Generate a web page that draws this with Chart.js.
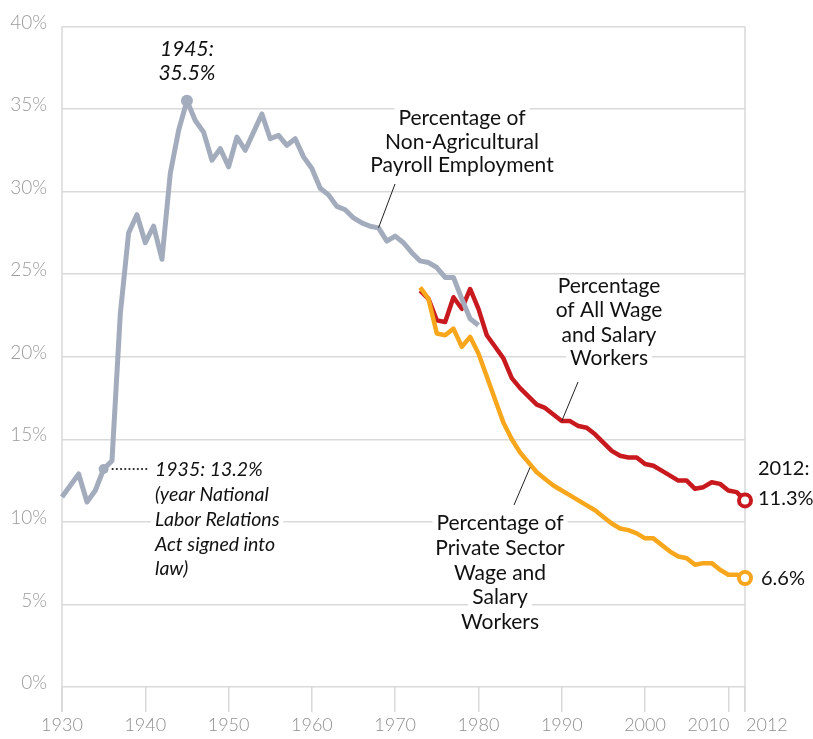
<!DOCTYPE html>
<html>
<head>
<meta charset="utf-8">
<script src="https://cdn.jsdelivr.net/npm/chart.js@4"></script>
<style>
  body { margin: 0; background: #fff; }
  canvas { display: block; }
</style>
</head>
<body>
<canvas id="unionChart" width="813" height="739"></canvas>
<script>
// Union membership, percent
const nonAgStart = 1930;
const nonAgValues = [
    11.5, 12.2, 12.9, 11.2, 11.9, 13.2, 13.7, 22.6, 27.5, 28.6,
    26.9, 27.9, 25.9, 31.1, 33.7, 35.5, 34.3, 33.6, 31.9, 32.6,
    31.5, 33.3, 32.5, 33.6, 34.7, 33.2, 33.4, 32.8, 33.2, 32.1,
    31.4, 30.2, 29.8, 29.1, 28.9, 28.4, 28.1, 27.9, 27.8, 27.0,
    27.3, 26.9, 26.3, 25.8, 25.7, 25.4, 24.8, 24.8, 23.5, 22.3,
    21.9
];
const wageStart = 1973;
const allWageValues = [
    24.0, 23.5, 22.2, 22.1, 23.6, 22.9, 24.1, 22.9, 21.3, 20.6,
    19.9, 18.7, 18.1, 17.6, 17.1, 16.9, 16.5, 16.1, 16.1, 15.8,
    15.7, 15.3, 14.8, 14.3, 14.0, 13.9, 13.9, 13.5, 13.4, 13.1,
    12.8, 12.5, 12.5, 12.0, 12.1, 12.4, 12.3, 11.9, 11.8, 11.3
];
const privateValues = [
    24.2, 23.5, 21.4, 21.3, 21.7, 20.6, 21.2, 20.2, 18.8, 17.4,
    16.0, 15.0, 14.2, 13.6, 13.0, 12.6, 12.2, 11.9, 11.6, 11.3,
    11.0, 10.7, 10.3, 9.9, 9.6, 9.5, 9.3, 9.0, 9.0, 8.6,
    8.2, 7.9, 7.8, 7.4, 7.5, 7.5, 7.1, 6.8, 6.8, 6.6
];
const xTickYears = [1930, 1940, 1950, 1960, 1970, 1980, 1990, 2000, 2010, 2012];
const yTickValues = [0, 5, 10, 15, 20, 25, 30, 35, 40];

const GRAY = "#a3acbd";
const RED = "#c8191f";
const ORANGE = "#f8a61c";
const INK = "#111";

function toPoints(start, values) {
    return values.map((v, i) => ({ x: start + i, y: v }));
}

// Annotations: text and leader lines
const annotations = {
    id: "annotations",
    beforeDatasetsDraw(chart) {
        const { ctx, chartArea, scales } = chart;
        ctx.save();
        ctx.strokeStyle = "#d9d9d9";
        ctx.lineWidth = 1.5;
        // left axis and right edge line
        ctx.beginPath();
        ctx.moveTo(chartArea.left, chartArea.top);
        ctx.lineTo(chartArea.left, chartArea.bottom + 25);
        const xr = scales.x.getPixelForValue(2012);
        ctx.moveTo(xr, chartArea.top);
        ctx.lineTo(xr, chartArea.bottom + 25);
        ctx.stroke();
        ctx.restore();
    },
    afterDatasetsDraw(chart) {
        const { ctx, scales } = chart;
        const x = scales.x, y = scales.y;
        ctx.save();

        function textBlock(lines, cx, ys, font, align) {
            ctx.font = font;
            ctx.textBaseline = "middle";
            ctx.textAlign = align;
            lines.forEach((t, i) => {
                const w = ctx.measureText(t).width;
                const left = align === "center" ? cx - w / 2 : cx;
                ctx.fillStyle = "#fff";
                ctx.fillRect(left - 4, ys[i] - 11, w + 8, 22);
                ctx.fillStyle = INK;
                ctx.fillText(t, cx, ys[i]);
            });
        }

        function leader(x1, y1, x2, y2) {
            ctx.strokeStyle = "#222";
            ctx.lineWidth = 1;
            ctx.beginPath();
            ctx.moveTo(x1, y1);
            ctx.lineTo(x2, y2);
            ctx.stroke();
        }

        // leader lines
        leader(x.getPixelForValue(1968), y.getPixelForValue(27.8), 395, 184);
        leader(x.getPixelForValue(1990), y.getPixelForValue(16.1), 578, 382);
        leader(x.getPixelForValue(1986.2), y.getPixelForValue(13.3), 514, 505);

        // dotted line for 1935
        ctx.fillStyle = "#222";
        const y35 = y.getPixelForValue(13.2);
        for (let px = x.getPixelForValue(1935) + 9; px < 150; px += 4.2) {
            ctx.beginPath();
            ctx.arc(px, y35, 1.1, 0, Math.PI * 2);
            ctx.fill();
        }

        const reg = "21px Lato";
        const ital = "italic 19.5px Lato";

        textBlock(["1945:", "35.5%"], x.getPixelForValue(1945), [49, 73], "italic 21px Lato", "center");
        textBlock(["Percentage of", "Non-Agricultural", "Payroll Employment"], 462, [118, 142, 165], reg, "center");
        textBlock(["Percentage", "of All Wage", "and Salary", "Workers"], 609, [286, 310, 335, 358], reg, "center");
        textBlock(["Percentage of", "Private Sector", "Wage and", "Salary", "Workers"], 500, [523, 548, 573, 597, 622], reg, "center");
        textBlock(["1935: 13.2%", "(year National", "Labor Relations", "Act signed into", "law)"], 155, [470, 495, 520, 545, 569], ital, "left");
        textBlock(["2012:", "11.3%"], 758, [469, 499], "20px Lato", "left");
        textBlock(["6.6%"], 761, [579], "20px Lato", "left");

        // x tick labels
        ctx.font = "300 18px Lato";
        ctx.fillStyle = "#8f8f8f";
        ctx.textBaseline = "middle";
        xTickYears.forEach(yr => {
            const px = x.getPixelForValue(yr);
            if (yr === 2010) { ctx.textAlign = "right"; ctx.fillText(String(yr), px + 1, 725); }
            else if (yr === 2012) { ctx.textAlign = "left"; ctx.fillText(String(yr), px + 1, 725); }
            else { ctx.textAlign = "center"; ctx.fillText(String(yr), px, 725); }
        });
        ctx.restore();
    }
};

const lastIdx = allWageValues.length - 1;

const ctx = document.getElementById("unionChart").getContext("2d");
new Chart(ctx, {
    type: "line",
    data: {
        datasets: [
            {
                label: "Percentage of Non-Agricultural Payroll Employment",
                data: toPoints(nonAgStart, nonAgValues),
                borderColor: GRAY,
                backgroundColor: GRAY,
                borderWidth: 5,
                pointRadius: c => (c.raw && c.raw.x === 1945) ? 6 : (c.raw && c.raw.x === 1935 ? 5 : 0),
                pointBorderWidth: 0,
                tension: 0,
                borderJoinStyle: "round",
                clip: false
            },
            {
                label: "Percentage of Private Sector Wage and Salary Workers",
                data: toPoints(wageStart, privateValues),
                borderColor: ORANGE,
                backgroundColor: "#fff",
                borderWidth: 4.5,
                pointRadius: c => c.dataIndex === lastIdx ? 6 : 0,
                pointBorderWidth: 4,
                pointBorderColor: ORANGE,
                tension: 0,
                borderJoinStyle: "round",
                clip: false
            },
            {
                label: "Percentage of All Wage and Salary Workers",
                data: toPoints(wageStart, allWageValues),
                borderColor: RED,
                backgroundColor: "#fff",
                borderWidth: 4.5,
                pointRadius: c => c.dataIndex === lastIdx ? 6 : 0,
                pointBorderWidth: 4,
                pointBorderColor: RED,
                tension: 0,
                borderJoinStyle: "round",
                clip: false
            }
        ]
    },
    options: {
        responsive: false,
        animation: false,
        layout: { padding: { top: 21, right: 68, left: 0, bottom: 0 } },
        plugins: {
            legend: { display: false },
            tooltip: { enabled: false }
        },
        scales: {
            x: {
                type: "linear",
                min: 1930,
                max: 2012,
                afterBuildTicks: scale => { scale.ticks = xTickYears.map(v => ({ value: v })); },
                afterFit: scale => { scale.height = 52; },
                grid: {
                    drawOnChartArea: false,
                    drawTicks: true,
                    tickLength: 25,
                    color: "#d9d9d9",
                    lineWidth: 1.5
                },
                border: { display: false },
                ticks: { display: false }
            },
            y: {
                min: 0,
                max: 40,
                afterBuildTicks: scale => { scale.ticks = yTickValues.map(v => ({ value: v })); },
                afterFit: scale => { scale.width = 62; },
                grid: {
                    drawTicks: false,
                    color: "#dadada",
                    lineWidth: 1.5
                },
                border: { display: false },
                ticks: {
                    padding: 15,
                    labelOffset: -4,
                    color: "#9a9a9a",
                    font: { family: "Lato", size: 19, weight: "300" },
                    callback: v => v + "%"
                }
            }
        }
    },
    plugins: [annotations]
});
</script>
</body>
</html>
